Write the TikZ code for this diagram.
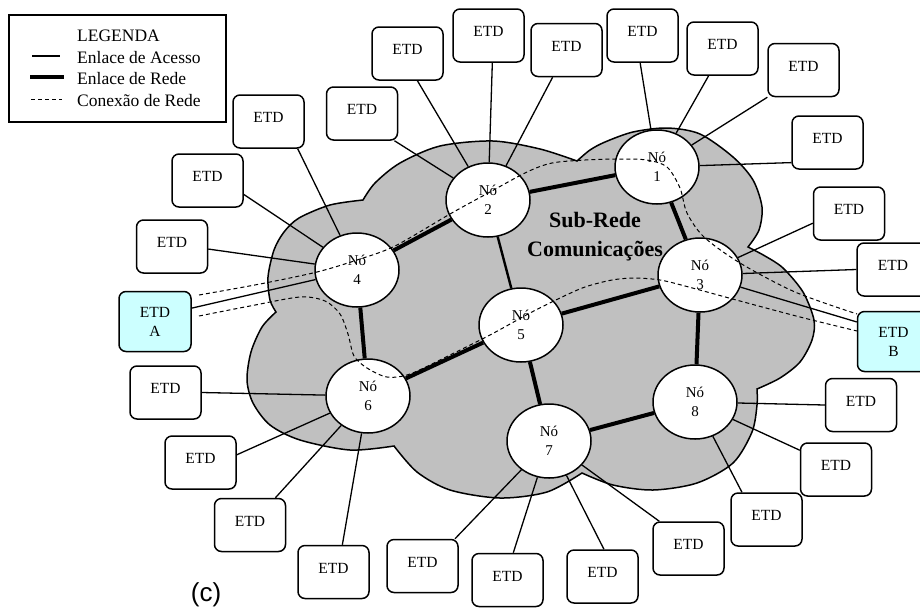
\documentclass[tikz,border=0pt]{standalone}
\usepackage{fontspec}
\setmainfont{Liberation Serif}
\newfontfamily\capsans{Liberation Sans}
\usetikzlibrary{shapes.geometric}
\definecolor{cloudgray}{HTML}{C0C0C0}
\definecolor{cyanbox}{HTML}{CCFFFF}
\begin{document}
\begin{tikzpicture}[x=1pt,y=-1pt,
  etd/.style={draw, line width=1.5pt, rounded corners=7pt, fill=white,
    minimum width=71pt, minimum height=53pt, inner sep=0pt,
    font=\fontsize{15.5}{18}\selectfont, text depth=8pt},
  etdend/.style={draw, line width=1.5pt, rounded corners=7pt, fill=cyanbox,
    minimum width=72pt, minimum height=60pt, inner sep=0pt, align=center,
    font=\fontsize{15.5}{19}\selectfont},
  nodo/.style={ellipse, draw, line width=1.5pt, fill=white,
    minimum width=84pt, minimum height=74pt, inner sep=0pt, align=center,
    font=\fontsize{15}{19}\selectfont},
  acc/.style={line width=1.3pt},
  net/.style={line width=4pt},
  netmid/.style={line width=2.4pt},
  conn/.style={line width=1pt, dash pattern=on 4pt off 3pt},
  legtxt/.style={anchor=west, inner sep=0pt, font=\fontsize{17.5}{19}\selectfont},
]
\path[use as bounding box, clip] (0,0) rectangle (920,611);
\fill[white] (0,0) rectangle (920,611);

% communication subnetwork cloud
\filldraw[fill=cloudgray, line width=1.5pt]
  plot[smooth] coordinates {(363,200) (330,205) (299,218) (284,232) (274,250) (268,277) (270,300) (276,312)}
  -- plot[smooth] coordinates {(276,312) (262,327) (251,352) (247,380) (253,403) (270,425) (300,440) (350,450) (394,446)}
  -- plot[smooth] coordinates {(394,446) (417,472) (450,490) (500,498) (547,492) (582,473)}
  -- plot[smooth] coordinates {(582,473) (613,485) (653,490) (697,483) (733,463) (752,432) (757,405) (757,389)}
  -- plot[smooth] coordinates {(757,389) (780,378) (800,362) (812,340) (814,320) (803,292) (783,268) (765,256) (748,247)}
  -- plot[smooth] coordinates {(748,247) (759,230) (762,207) (753,180) (733,157) (700,134) (667,128) (633,132) (605,142) (590,150) (577,161)}
  -- plot[smooth] coordinates {(577,161) (540,149) (493,141) (440,146) (400,163) (375,183) (363,200)}
  -- cycle;

% switching nodes
\node[nodo] (N1) at (657,167) {Nó\\1};
\node[nodo] (N2) at (488,200) {Nó\\2};
\node[nodo] (N3) at (700,275) {Nó\\3};
\node[nodo] (N4) at (357,270) {Nó\\4};
\node[nodo] (N5) at (521,325) {Nó\\5};
\node[nodo] (N6) at (368,396) {Nó\\6};
\node[nodo] (N7) at (549,441) {Nó\\7};
\node[nodo] (N8) at (695,402) {Nó\\8};

\node[font=\bfseries\fontsize{22}{29}\selectfont, align=center] (sub) at (595,237) {Sub-Rede\\Comunicações};

% terminal equipment
\node[etd] (Ea) at (268.5,121.5) {ETD};
\node[etd] (Eb) at (362,113.5) {ETD};
\node[etd] (Ec) at (407.5,53.5) {ETD};
\node[etd] (Ed) at (488.5,35.5) {ETD};
\node[etd] (Ee) at (566.5,50) {ETD};
\node[etd] (Ef) at (642.5,35.5) {ETD};
\node[etd] (Eg) at (722.5,48.5) {ETD};
\node[etd] (Eh) at (803.5,70) {ETD};
\node[etd] (Ei) at (827.5,142.5) {ETD};
\node[etd] (Ej) at (849,213.5) {ETD};
\node[etd, minimum width=72pt] (Ex) at (893,269.5) {ETD};
\node[etd] (Ek) at (207.5,180.5) {ETD};
\node[etd] (El) at (172,246.5) {ETD};
\node[etd] (Em) at (165.5,392.5) {ETD};
\node[etd] (En) at (200.5,462.5) {ETD};
\node[etd] (Eo) at (250,525) {ETD};
\node[etd] (Ep) at (333.5,572) {ETD};
\node[etd] (Eq) at (422.5,566) {ETD};
\node[etd] (Er) at (507.5,580) {ETD};
\node[etd] (Es) at (602.5,576.5) {ETD};
\node[etd] (Et) at (688.5,548.5) {ETD};
\node[etd] (Eu) at (766.5,519.5) {ETD};
\node[etd] (Ev) at (836,469.5) {ETD};
\node[etd] (Ew) at (861,405) {ETD};
\node[etdend] (EA) at (155,321.5) {ETD\\A};
\node[etdend] (EB) at (893.5,341.5) {ETD\\B};

% network links
\draw[net] (N2) -- (N1);
\draw[net] (N2) -- (N4);
\draw[net] (N1) -- (N3);
\draw[net] (N4) -- (N6);
\draw[net] (N6) -- (N5);
\draw[net] (N5) -- (N3);
\draw[net] (N3) -- (N8);
\draw[net] (N5) -- (N7);
\draw[net] (N7) -- (N8);
\draw[netmid] (N2) -- (N5);

% access links
\draw[acc] (Ea.-43) -- (N4);
\draw[acc] (Ek.-21) -- (N4);
\draw[acc] (El.-4) -- (N4);
\draw[acc] (EA.20) -- (N4);
\draw[acc] (Eb.-40) -- (N2);
\draw[acc] (Ec.-70) -- (N2);
\draw[acc] (Ed.-82) -- (N2);
\draw[acc] (Ee.-117) -- (N2);
\draw[acc] (Ef.-95) -- (N1);
\draw[acc] (Eg.-117) -- (N1);
\draw[acc] (Eh.-143) -- (N1);
\draw[acc] (Ei.-151) -- (N1);
\draw[acc] (Ej.195) -- (N3);
\draw[acc] (Ex.180) -- (N3);
\draw[acc] (EB.152) -- (N3);
\draw[acc] (Em.0) -- (N6);
\draw[acc] (En.12) -- (N6);
\draw[acc] (Eo.47) -- (N6);
\draw[acc] (Ep.72) -- (N6);
\draw[acc] (Eq.40) -- (N7);
\draw[acc] (Er.78) -- (N7);
\draw[acc] (Es.87) -- (N7);
\draw[acc] (Et.137) -- (N7);
\draw[acc] (Eu.132) -- (N8);
\draw[acc] (Ev.152) -- (N8);
\draw[acc] (Ew.180) -- (N8);

% network connections between ETD A and ETD B
\coordinate (ca1) at (199,295);
\coordinate (cb1) at (857,314);
\coordinate (ca2) at (199,316);
\coordinate (cb2) at (857,331);
\draw[conn] plot[smooth] coordinates {(ca1) (260,284) (317,272) (357,260) (395,246) (450,214) (490,192) (527,172) (552,163) (585,160) (617,159) (647,160) (667,167) (680,188) (687,213) (704,237) (740,263) (795,292) (cb1)};
\draw[conn] plot[smooth] coordinates {(ca2) (250,306) (300,297) (325,301) (340,314) (348,334) (354,356) (367,368) (387,377) (410,374) (450,355) (490,335) (530,313) (560,298) (585,287) (612,280) (635,278) (660,280) (685,286) (740,301) (800,317) (cb2)};

% legend
\draw[line width=1.5pt] (9,15) rectangle (226,122);
\node[legtxt] (lg0) at (77,36) {LEGENDA};
\node[legtxt] (lg1) at (77,58) {Enlace de Acesso};
\node[legtxt] (lg2) at (77,79) {Enlace de Rede};
\node[legtxt] (lg3) at (77,101) {Conexão de Rede};
\coordinate (la1) at (32,56);  \coordinate (lb1) at (60,56);
\coordinate (la2) at (30,77);  \coordinate (lb2) at (64,77);
\coordinate (la3) at (31,99);  \coordinate (lb3) at (62,99);
\draw[acc] (la1) -- (lb1);
\draw[net] (la2) -- (lb2);
\draw[conn] (la3) -- (lb3);

\node[font=\capsans\fontsize{26}{28}\selectfont] (tag) at (206,595) {(c)};
\end{tikzpicture}
\end{document}
